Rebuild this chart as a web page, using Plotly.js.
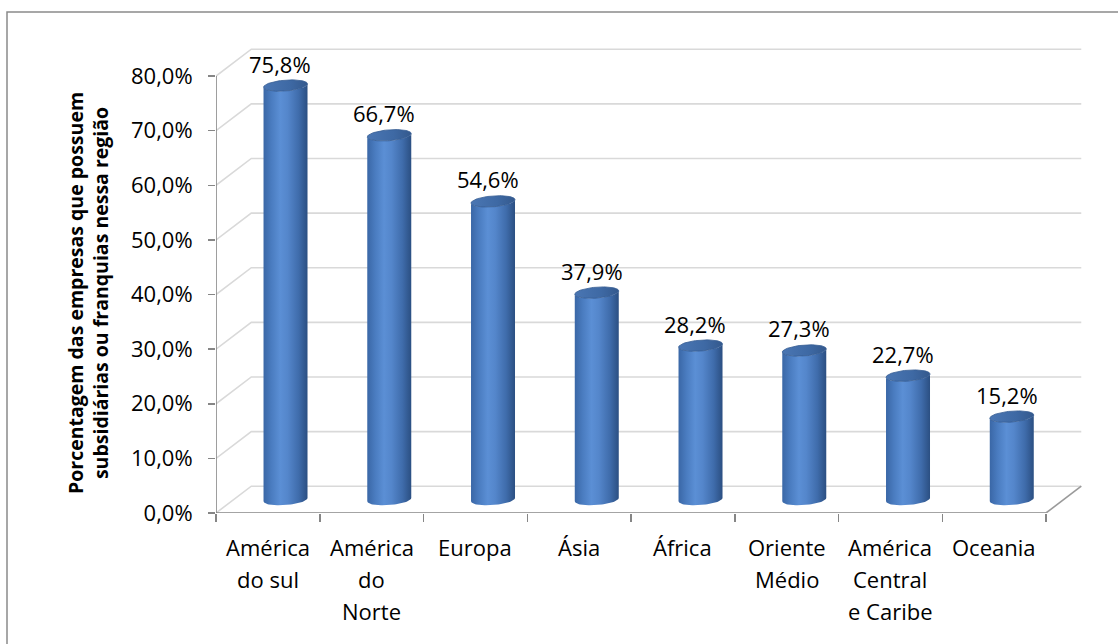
<!DOCTYPE html>
<html>
<head>
<meta charset="utf-8">
<script src="https://cdn.plot.ly/plotly-3.0.1.min.js"></script>
<style>html,body{margin:0;padding:0;background:#fff;}#chart{width:1118px;height:644px;}</style>
</head>
<body>
<div id="chart"></div>
<script>
// ---- data ----
const categories = ["América<br>do sul", "América<br>do<br>Norte", "Europa", "Ásia", "África", "Oriente<br>Médio", "América<br>Central<br>e Caribe", "Oceania"];
const values = [75.8, 66.7, 54.6, 37.9, 28.2, 27.3, 22.7, 15.2];
const yTicks = [0, 10, 20, 30, 40, 50, 60, 70, 80];
const yTickLabels = ["0,0%", "10,0%", "20,0%", "30,0%", "40,0%", "50,0%", "60,0%", "70,0%", "80,0%"];
const yTitle = "Porcentagem das empresas que possuem<br>subsidiárias ou franquias nessa região";

// ---- geometry (3D look) ----
const FONT = "Open Sans, Liberation Sans, sans-serif";
const dxu = 0.34, dyu = 4.9;          // depth offset in axis units
const a = 0.212, b = 1.0, k = 0.3;    // cylinder half width, ellipse half height, tilt
const N = categories.length;
const yMax = yTicks[yTicks.length - 1];
const L = 216, R = 1090, T = 40, B = 513;
const pxPerCat = 103.75, pxPerPct = (B - 76) / yMax;
const xr = [0, (R - L) / pxPerCat];
const yr = [0, (B - T) / pxPerPct];
const W = R - L, H = B - T;

const traces = [];
const grid = '#d9d9d9', axisCol = '#868686';
function line(xs, ys, color, w) {
  traces.push({type: 'scatter', mode: 'lines', x: xs, y: ys, line: {color: color, width: w}, hoverinfo: 'skip', showlegend: false});
}
yTicks.forEach(v => {
  line([0, dxu, N + dxu], [v, v + dyu, v + dyu], grid, 1.6);
});
line([N, N + dxu], [0, dyu], '#9a9a9a', 1.6);
line([0, 0], [0, yMax], axisCol, 1.6);
line([0, N], [0, 0], axisCol, 1.6);

function ell(cx, cy, t) {
  return [cx + a * Math.cos(t), cy + b * Math.sin(t) + k * Math.cos(t)];
}
const bodyScale = [[0, '#3a67a6'], [0.18, '#4a7cc0'], [0.38, '#5b8fd5'], [0.55, '#5486cb'], [0.8, '#3f6cab'], [1, '#2b4f82']];
const topScale = [[0, '#4a76b3'], [0.6, '#3e69a4'], [1, '#34598d']];
const annotations = [];
values.forEach((v, i) => {
  const cx = i + 0.5 + dxu / 2;
  const cyTop = v + dyu / 2, cyBase = dyu / 2;
  const xs = [], ys = [];
  const S = 40;
  for (let s = 0; s <= S; s++) { const p = ell(cx, cyBase, Math.PI + Math.PI * s / S); xs.push(p[0]); ys.push(p[1]); }
  for (let s = S; s >= 0; s--) { const p = ell(cx, cyTop, Math.PI + Math.PI * s / S); xs.push(p[0]); ys.push(p[1]); }
  xs.push(xs[0]); ys.push(ys[0]);
  traces.push({type: 'scatter', mode: 'lines', x: xs, y: ys, fill: 'toself',
    fillgradient: {type: 'horizontal', start: cx - a, stop: cx + a, colorscale: bodyScale},
    line: {width: 0}, hoverinfo: 'skip', showlegend: false});
  const ex = [], ey = [];
  for (let s = 0; s <= 2 * S; s++) { const p = ell(cx, cyTop, Math.PI * s / S); ex.push(p[0]); ey.push(p[1]); }
  traces.push({type: 'scatter', mode: 'lines', x: ex, y: ey, fill: 'toself',
    fillgradient: {type: 'horizontal', start: cx - a, stop: cx + a, colorscale: topScale},
    line: {width: 0.8, color: '#365d93'}, hoverinfo: 'skip', showlegend: false});
  annotations.push({x: cx - 0.05, y: cyTop, xref: 'x', yref: 'y', yanchor: 'bottom', yshift: 5,
    text: v.toFixed(1).replace('.', ',') + '%', showarrow: false, font: {family: FONT, size: 22, color: '#000'}});
  categories[i].split('<br>').forEach((ln, j) => {
    annotations.push({x: i + 0.5, y: 0, xref: 'x', yref: 'y', yanchor: 'middle', yshift: -34 - 32 * j,
      text: ln, showarrow: false, font: {family: FONT, size: 22, color: '#000'}});
  });
});
// y axis title
annotations.push({x: (88 - L) / W, y: (B - 293) / H, xref: 'paper', yref: 'paper', xanchor: 'center', yanchor: 'middle',
  textangle: -90, text: yTitle, showarrow: false, font: {family: FONT, size: 19.5, color: '#000', weight: 'bold'}});

const layout = {
  width: 1118, height: 644,
  margin: {l: L, r: 1118 - R, t: T, b: 644 - B},
  paper_bgcolor: '#fff', plot_bgcolor: 'rgba(0,0,0,0)',
  showlegend: false,
  xaxis: {range: xr, tickvals: Array.from({length: N + 1}, (_, i) => i), ticks: 'outside', ticklen: 8,
    tickcolor: axisCol, tickwidth: 1.5, showticklabels: false, showgrid: false, zeroline: false, showline: false, fixedrange: true},
  yaxis: {range: yr, tickmode: 'array', tickvals: yTicks, ticktext: yTickLabels, ticks: 'outside', ticklen: 7,
    tickcolor: axisCol, tickwidth: 1.5, ticklabelstandoff: 11, showgrid: false, zeroline: false, showline: false,
    tickfont: {family: FONT, size: 22, color: '#000'}, fixedrange: true},
  annotations: annotations,
  shapes: [{type: 'rect', xref: 'paper', yref: 'paper', x0: (7 - L) / W, x1: (1125 - L) / W, y0: (B - 650) / H, y1: (B - 12) / H,
    line: {color: '#8a8a8a', width: 1.5}, fillcolor: 'rgba(0,0,0,0)', layer: 'below'}]
};
Plotly.newPlot('chart', traces, layout, {staticPlot: true, displayModeBar: false});
</script>
</body>
</html>
